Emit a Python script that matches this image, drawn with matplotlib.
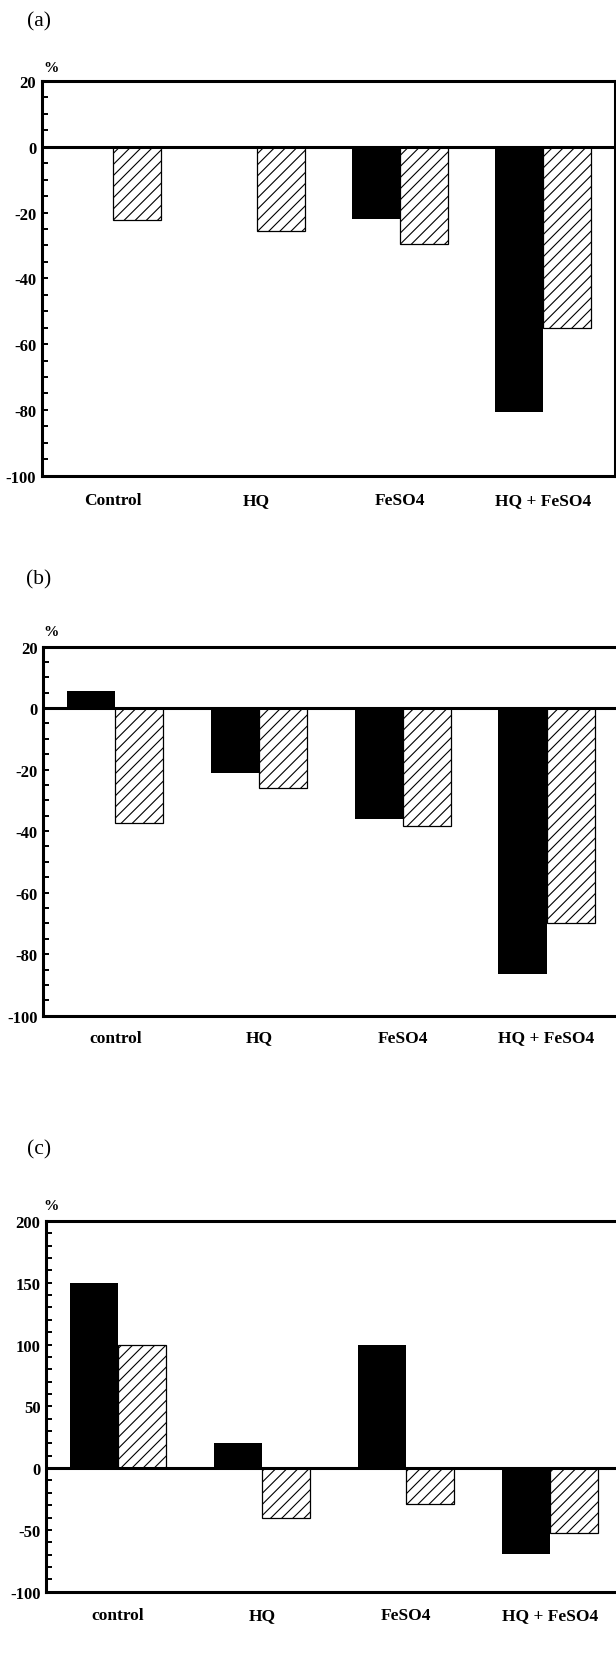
import numpy as np
import matplotlib
matplotlib.use("Agg")
import matplotlib.pyplot as plt
from matplotlib.ticker import MultipleLocator

plt.rcParams['font.family'] = ['Liberation Serif', 'DejaVu Serif']
plt.rcParams['hatch.linewidth'] = 0.8
plt.rcParams['axes.unicode_minus'] = False

# Data
cats_a = ['Control', 'HQ', 'FeSO4', 'HQ + FeSO4']
cats_bc = ['control', 'HQ', 'FeSO4', 'HQ + FeSO4']

black_a = [0, 0, -22.0, -80.5]
hatch_a = [-22.2, -25.7, -29.6, -55.2]

black_b = [5.6, -21.1, -36.0, -86.4]
hatch_b = [-37.4, -25.9, -38.2, -69.8]

black_c = [150, 20, 100, -69.4]
hatch_c = [100, -40.5, -29.0, -52.7]

W, H = 616, 1658
fig = plt.figure(figsize=(W / 100, H / 100), dpi=100)


def box(l, r, t, b):
    return [l / W, 1 - b / H, (r - l) / W, (b - t) / H]


def panel(rect, cats, black, hatched, ylim, major, minor, tag, tag_y, pct_y, lab_pad):
    ax = fig.add_axes(rect)
    x = np.arange(len(cats))
    w = 0.335
    ax.bar(x - w / 2, black, w, color='black', linewidth=0)
    ax.bar(x + w / 2, hatched, w, color='white', edgecolor='black',
           hatch='///', linewidth=0.9)
    ax.axhline(0, color='black', lw=2.2, zorder=3)
    ax.set_xlim(-0.5, 3.5)
    ax.set_ylim(*ylim)
    ax.yaxis.set_major_locator(MultipleLocator(major))
    ax.yaxis.set_minor_locator(MultipleLocator(minor))
    ax.tick_params(axis='y', which='both', direction='in', length=4,
                   width=1.4, labelsize=12, pad=4)
    for lab in ax.get_yticklabels():
        lab.set_fontweight('bold')
    ax.set_xticks(x)
    ax.set_xticklabels(cats, fontweight='bold', fontsize=12.5)
    ax.tick_params(axis='x', length=0, pad=lab_pad)
    for s in ax.spines.values():
        s.set_linewidth(2.2)
    ax.spines['right'].set_visible(rect[0] + rect[2] <= 1.0)
    fig.text(39 / W, 1 - tag_y / H, tag, fontsize=15.5, ha='center', va='center')
    fig.text(51 / W, 1 - pct_y / H, '%', fontsize=11, fontweight='bold',
             ha='center', va='center')
    return ax


panel(box(41.7, 615, 82, 476.7), cats_a, black_a, hatch_a, (-100, 20), 20, 5,
      '(a)', 22, 69, 12)
panel(box(43.3, 618.5, 647.5, 1016.7), cats_bc, black_b, hatch_b, (-100, 20), 20, 5,
      '(b)', 580, 632, 10)
panel(box(46, 622, 1222, 1592.7), cats_bc, black_c, hatch_c, (-100, 200), 50, 10,
      '(c)', 1150, 1207, 11)

fig.savefig('out.png', dpi=100)
